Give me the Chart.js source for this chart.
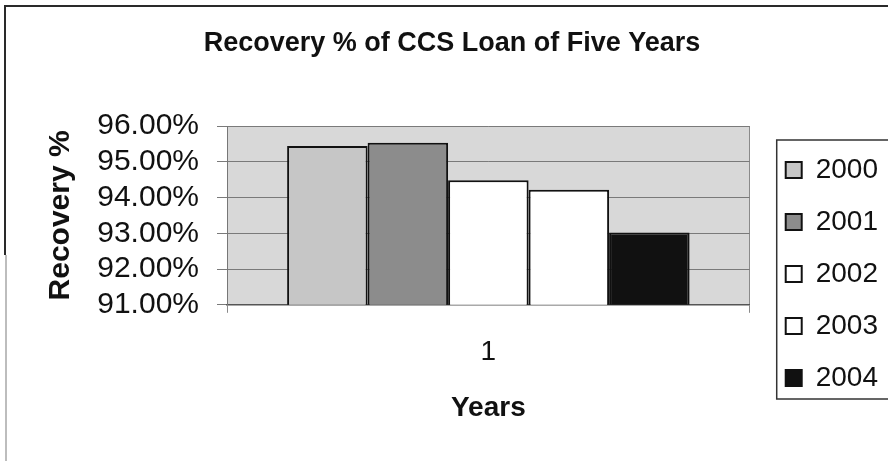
<!DOCTYPE html>
<html>
<head>
<meta charset="utf-8">
<script src="https://cdn.jsdelivr.net/npm/chart.js@4.4.1/dist/chart.umd.min.js"></script>
<style>
  html, body { margin: 0; padding: 0; background: #ffffff; }
  #wrap { width: 888px; height: 461px; position: relative; }
</style>
</head>
<body>
<div id="wrap"><canvas id="c" width="888" height="461"></canvas></div>
<script>
// ---- data ----
const categories = ['1'];
const seriesNames = ['2000', '2001', '2002', '2003', '2004'];
const recovery2000 = [95.44];
const recovery2001 = [95.53];
const recovery2002 = [94.48];
const recovery2003 = [94.22];
const recovery2004 = [93.02];
const yTicks = [91, 92, 93, 94, 95, 96];
const chartTitle = 'Recovery % of CCS Loan of Five Years';
const yTitle = 'Recovery %';
const xTitle = 'Years';

const seriesValues = [recovery2000, recovery2001, recovery2002, recovery2003, recovery2004];
const fills = ['#c6c6c6', '#8c8c8c', '#ffffff', '#ffffff', '#111111'];
const FONT = '"Liberation Sans", Arial, sans-serif';

const frame = {
  id: 'frame',
  beforeDraw(chart) {
    const {ctx, chartArea: a} = chart;
    ctx.save();
    ctx.fillStyle = '#d8d8d8';
    ctx.fillRect(a.left, a.top, a.right - a.left, a.bottom - a.top);
    ctx.restore();
  },
  afterDraw(chart) {
    const {ctx, width, height} = chart;
    ctx.save();
    ctx.strokeStyle = '#2a2a2a';
    ctx.lineWidth = 2;
    ctx.beginPath();
    ctx.moveTo(5, 255);
    ctx.lineTo(5, 6);
    ctx.lineTo(width, 6);
    ctx.stroke();
    ctx.strokeStyle = '#bdbdbd';
    ctx.beginPath();
    ctx.moveTo(6, 255);
    ctx.lineTo(6, height);
    ctx.stroke();
    const lg = chart.legend;
    if (lg && lg.legendHitBoxes && lg.legendHitBoxes.length) {
      const hb = lg.legendHitBoxes;
      const first = hb[0], last = hb[hb.length - 1];
      const x0 = first.left - 9;
      const y0 = first.top - 16;
      const y1 = last.top + last.height + 7;
      ctx.strokeStyle = '#333';
      ctx.lineWidth = 1.5;
      ctx.strokeRect(x0, y0, width + 10 - x0, y1 - y0);
    }
    ctx.restore();
  }
};

new Chart(document.getElementById('c'), {
  type: 'bar',
  data: {
    labels: categories,
    datasets: seriesNames.map((n, i) => ({
      label: n,
      data: seriesValues[i],
      backgroundColor: fills[i],
      borderColor: '#111111',
      borderWidth: 2,
      barPercentage: 1,
      categoryPercentage: 0.77
    }))
  },
  options: {
    responsive: false,
    animation: false,
    layout: { padding: { left: 16, right: 0, top: 0, bottom: 36 } },
    plugins: {
      title: {
        display: true,
        text: chartTitle,
        color: '#111',
        font: { family: FONT, size: 27, weight: 'bold', lineHeight: 1.2 },
        padding: { top: 27, bottom: 66.6 }
      },
      legend: {
        position: 'right',
        title: { display: true, text: '', padding: { top: 113, bottom: 0 }, font: { size: 10, lineHeight: 1 } },
        labels: {
          color: '#111',
          font: { family: FONT, size: 28 },
          boxWidth: 16,
          boxHeight: 16,
          padding: 24
        }
      },
      tooltip: { enabled: false }
    },
    scales: {
      x: {
        grid: { display: true, color: '#8a8a8a', lineWidth: 1, tickLength: 8, offset: true },
        border: { display: true, color: '#555', width: 1.5 },
        ticks: { color: '#111', font: { family: FONT, size: 28 }, padding: 22.5 },
        title: {
          display: true, text: xTitle, color: '#111',
          font: { family: FONT, size: 28, weight: 'bold', lineHeight: 1.2 },
          padding: { top: 0, bottom: 0 }
        }
      },
      y: {
        min: 91,
        max: 96,
        afterBuildTicks(scale) { scale.ticks = yTicks.map(v => ({ value: v })); },
        afterFit(scale) { scale.width = 211; },
        ticks: {
          color: '#111',
          autoSkip: false,
          font: { family: FONT, size: 30 },
          padding: 18,
          callback: v => Number(v).toFixed(2) + '%'
        },
        grid: { color: '#7a7a7a', lineWidth: 1, tickLength: 10 },
        border: { display: true, color: '#777', width: 1 },
        title: {
          display: true, text: yTitle, color: '#111',
          font: { family: FONT, size: 30, weight: 'bold', lineHeight: 1.2 },
          padding: { top: 27, bottom: 20 }
        }
      },
      yR: {
        position: 'right',
        display: true,
        grid: { display: false },
        border: { display: false },
        ticks: { display: false },
        afterFit(scale) { scale.width = 12; }
      }
    }
  },
  plugins: [frame]
});
</script>
</body>
</html>
